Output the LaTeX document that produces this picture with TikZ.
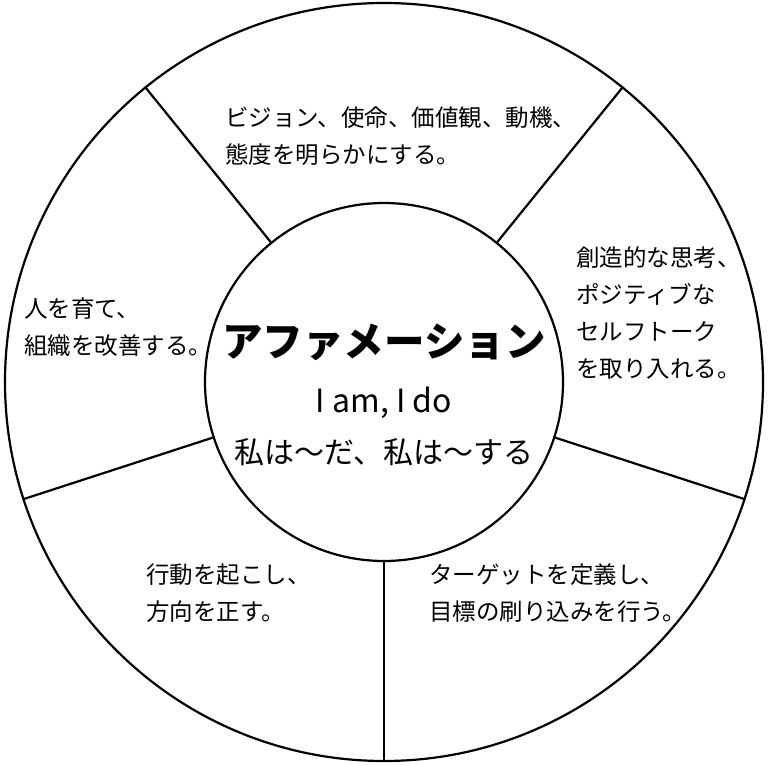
\documentclass[tikz,border=0pt]{standalone}
\usepackage{fontspec}
\setmainfont{Noto Sans CJK JP}
\usetikzlibrary{positioning}

\begin{document}
\begin{tikzpicture}[
    x=1pt, y=-1pt,
    line width=2.2pt,
    segtext/.style={anchor=west, align=left, inner sep=0pt,
                    font=\fontsize{23.5}{37}\selectfont}
]
\useasboundingbox (0,0) rectangle (769,765);

\node[circle, draw, minimum size=758pt, inner sep=0pt] (ring) at (384,382) {};
\node[circle, draw, fill=white, minimum size=358pt, inner sep=0pt] (hub) at (384,382) {};

% -- spokes between hub and ring --
\draw (hub.51)  -- (ring.51);
\draw (hub.129) -- (ring.129);
\draw (hub.198) -- (ring.198);
\draw (hub.270) -- (ring.270);
\draw (hub.342) -- (ring.342);

% -- centre texts --
\node[inner sep=0pt, font=\fontsize{40.5}{42}\selectfont\bfseries] (hubTitle) at (384,342) {アファメーション};
\node[inner sep=0pt, font=\fontsize{32}{34}\selectfont] (hubEnglish) at (384,403) {I am, I do};
\node[inner sep=0pt, font=\fontsize{30}{32}\selectfont] (hubJapanese) at (384,452) {私は〜だ、私は〜する};

% -- segment texts --
\node[segtext] (segVision) at (224,136.5) {ビジョン、使命、価値観、動機、\\態度を明らかにする。};
\node[segtext] (segTalk) at (575,313) {創造的な思考、\\ポジティブな\\セルフトーク\\を取り入れる。};
\node[segtext] (segTarget) at (428,593.5) {ターゲットを定義し、\\目標の刷り込みを行う。};
\node[segtext] (segAction) at (145,593.5) {行動を起こし、\\方向を正す。};
\node[segtext] (segPeople) at (23,327.5) {人を育て、\\組織を改善する。};

\end{tikzpicture}
\end{document}
